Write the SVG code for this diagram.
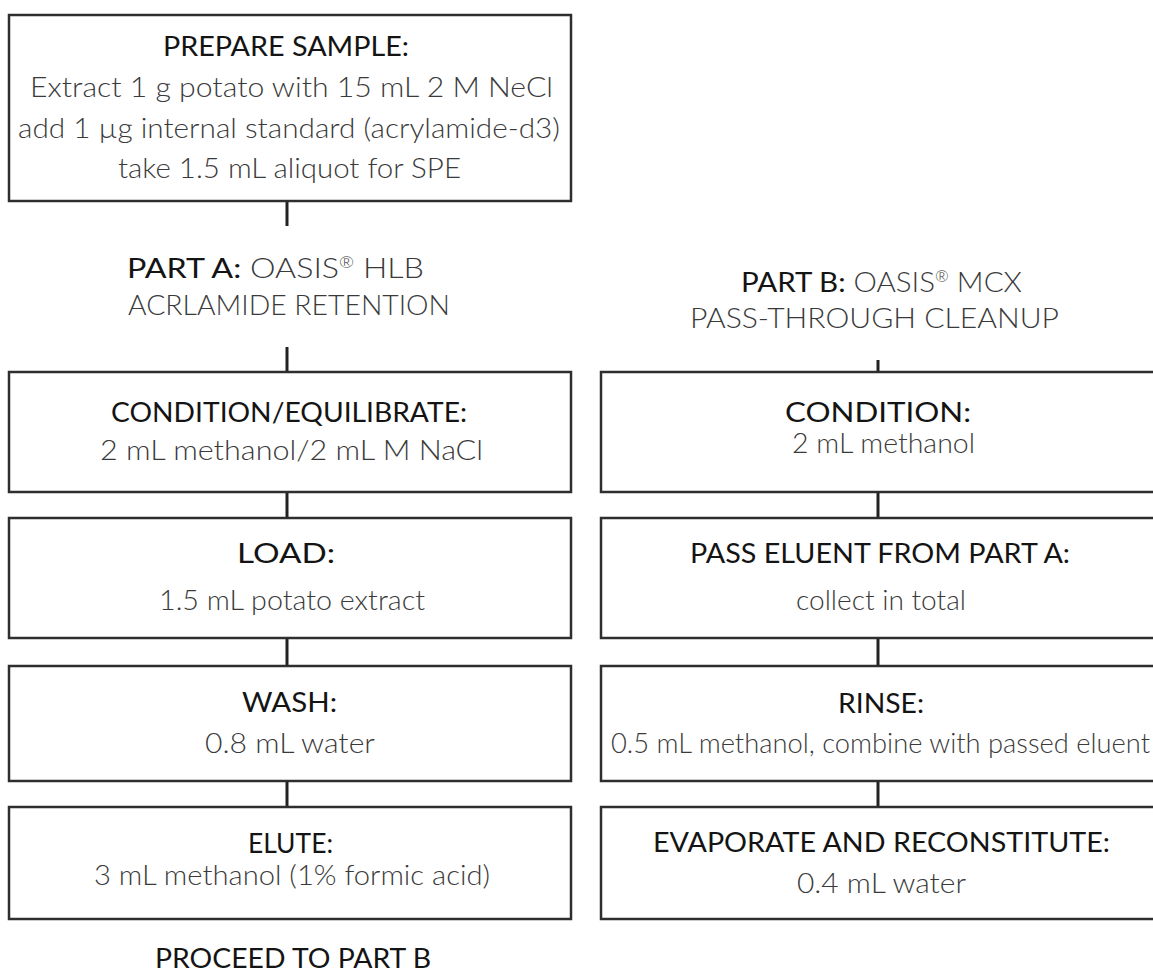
<svg xmlns="http://www.w3.org/2000/svg" width="1153" height="974" viewBox="0 0 1153 974">
<style>
.box{fill:#fff;stroke:#2e2e2e;stroke-width:2.5}
.con{stroke:#222;stroke-width:3;fill:none}
text{font-family:Lato,"Liberation Sans",Arial,sans-serif;font-size:27px}
.h{fill:#141414;font-weight:400}
.b{fill:#3a3a3a;font-weight:300}
.sup{font-size:15px}
</style>
<rect width="1153" height="974" fill="#fff"/>
<g id="connectors">
<line class="con" x1="287" y1="201" x2="287" y2="226"/>
<line class="con" x1="287" y1="347" x2="287" y2="372"/>
<line class="con" x1="287" y1="492" x2="287" y2="518"/>
<line class="con" x1="287" y1="638" x2="287" y2="666"/>
<line class="con" x1="287" y1="781" x2="287" y2="807"/>
<line class="con" x1="878" y1="360" x2="878" y2="372"/>
<line class="con" x1="878" y1="492" x2="878" y2="518"/>
<line class="con" x1="878" y1="638" x2="878" y2="666"/>
<line class="con" x1="878" y1="781" x2="878" y2="807"/>
</g>
<g id="prepare">
<rect class="box" x="9" y="15" width="562" height="186"/>
<text class="h" x="163" y="56" textLength="246" lengthAdjust="spacingAndGlyphs">PREPARE SAMPLE:</text>
<text class="b" x="30" y="97" textLength="523" lengthAdjust="spacingAndGlyphs">Extract 1 g potato with 15 mL 2 M NeCl</text>
<text class="b" x="18" y="138" textLength="542" lengthAdjust="spacingAndGlyphs">add 1 µg internal standard (acrylamide-d3)</text>
<text class="b" x="118" y="178" textLength="343" lengthAdjust="spacingAndGlyphs">take 1.5 mL aliquot for SPE</text>
</g>
<g id="partA">
<text x="127" y="278" textLength="297" lengthAdjust="spacingAndGlyphs"><tspan class="h">PART A:</tspan><tspan class="b"> OASIS</tspan><tspan class="b sup" dy="-10">®</tspan><tspan class="b" dy="10"> HLB</tspan></text>
<text class="b" x="128" y="315" textLength="322" lengthAdjust="spacingAndGlyphs">ACRLAMIDE RETENTION</text>
</g>
<g id="partB">
<text x="741" y="292" textLength="281" lengthAdjust="spacingAndGlyphs"><tspan class="h">PART B:</tspan><tspan class="b"> OASIS</tspan><tspan class="b sup" dy="-10">®</tspan><tspan class="b" dy="10"> MCX</tspan></text>
<text class="b" x="690" y="328" textLength="369" lengthAdjust="spacingAndGlyphs">PASS-THROUGH CLEANUP</text>
</g>
<g id="conditionA">
<rect class="box" x="9" y="372" width="562" height="120"/>
<text class="h" x="111" y="422" textLength="356" lengthAdjust="spacingAndGlyphs">CONDITION/EQUILIBRATE:</text>
<text class="b" x="100" y="460" textLength="383" lengthAdjust="spacingAndGlyphs">2 mL methanol/2 mL M NaCl</text>
</g>
<g id="load">
<rect class="box" x="9" y="518" width="562" height="120"/>
<text class="h" x="237" y="563" textLength="98" lengthAdjust="spacingAndGlyphs">LOAD:</text>
<text class="b" x="159" y="610" textLength="266" lengthAdjust="spacingAndGlyphs">1.5 mL potato extract</text>
</g>
<g id="wash">
<rect class="box" x="9" y="666" width="562" height="115"/>
<text class="h" x="242" y="712" textLength="95" lengthAdjust="spacingAndGlyphs">WASH:</text>
<text class="b" x="205" y="753" textLength="170" lengthAdjust="spacingAndGlyphs">0.8 mL water</text>
</g>
<g id="elute">
<rect class="box" x="9" y="807" width="562" height="112"/>
<text class="h" x="248" y="853" textLength="85" lengthAdjust="spacingAndGlyphs">ELUTE:</text>
<text class="b" x="94" y="885" textLength="396" lengthAdjust="spacingAndGlyphs">3 mL methanol (1% formic acid)</text>
</g>
<g id="proceed">
<text class="h" x="155" y="968" textLength="276" lengthAdjust="spacingAndGlyphs">PROCEED TO PART B</text>
</g>
<g id="conditionB">
<rect class="box" x="601" y="372" width="560" height="120"/>
<text class="h" x="785" y="422" textLength="186" lengthAdjust="spacingAndGlyphs">CONDITION:</text>
<text class="b" x="792" y="453" textLength="183" lengthAdjust="spacingAndGlyphs">2 mL methanol</text>
</g>
<g id="passEluent">
<rect class="box" x="601" y="518" width="560" height="120"/>
<text class="h" x="690" y="563" textLength="380" lengthAdjust="spacingAndGlyphs">PASS ELUENT FROM PART A:</text>
<text class="b" x="796" y="610" textLength="170" lengthAdjust="spacingAndGlyphs">collect in total</text>
</g>
<g id="rinse">
<rect class="box" x="601" y="666" width="560" height="115"/>
<text class="h" x="838" y="713" textLength="86" lengthAdjust="spacingAndGlyphs">RINSE:</text>
<text class="b" x="611" y="753" textLength="539" lengthAdjust="spacingAndGlyphs">0.5 mL methanol, combine with passed eluent</text>
</g>
<g id="evaporate">
<rect class="box" x="601" y="807" width="560" height="112"/>
<text class="h" x="653" y="852" textLength="457" lengthAdjust="spacingAndGlyphs">EVAPORATE AND RECONSTITUTE:</text>
<text class="b" x="797" y="893" textLength="169" lengthAdjust="spacingAndGlyphs">0.4 mL water</text>
</g>
</svg>
